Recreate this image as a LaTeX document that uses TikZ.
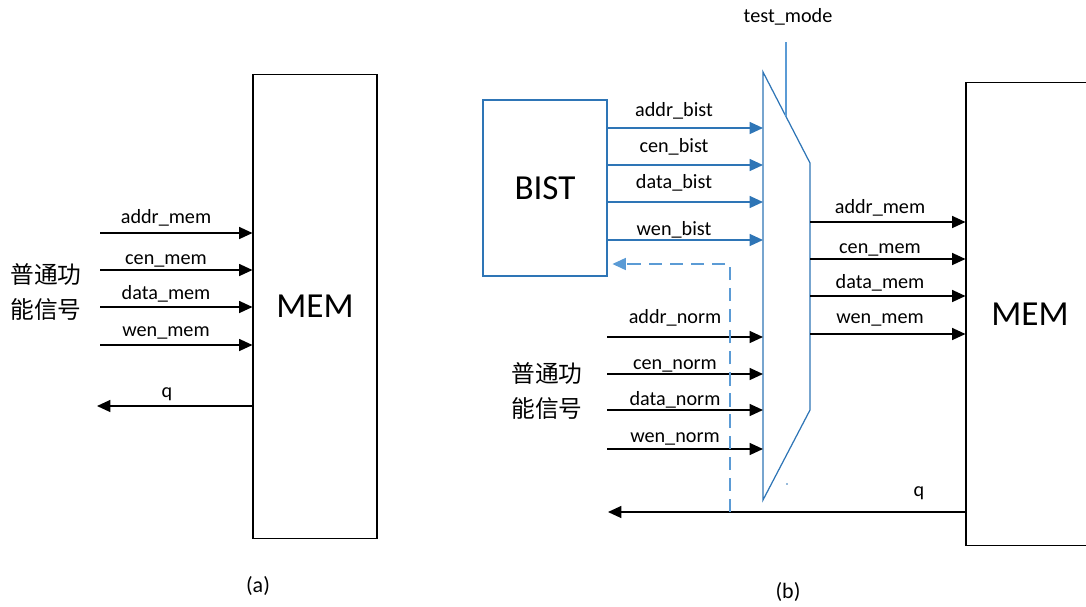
\documentclass[tikz,border=0pt]{standalone}
\usepackage{fontspec}
\setmainfont{Carlito}
\newfontfamily\cjkfont{Noto Sans CJK SC}
\usetikzlibrary{arrows.meta}
\definecolor{bistblue}{HTML}{2E75B6}
\definecolor{dashblue}{HTML}{5B9BD5}

\begin{document}
\begin{tikzpicture}[x=0.02cm, y=-0.02cm,
  sig/.style={line width=0.85pt, -{Triangle[length=7.6pt,width=6.8pt]}},
  bsig/.style={sig, bistblue},
  lbl/.style={font=\fontsize{11.5}{13}\selectfont, anchor=base},
  big/.style={draw, line width=0.6pt, inner sep=0pt, font=\fontsize{20}{24}\selectfont},
  cn/.style={font=\cjkfont\fontsize{13.5}{20}\selectfont, align=center}]
\useasboundingbox (0,0) rectangle (1086,606);
\clip (0,0) rectangle (1086,606);

\node[big, minimum width=2.48cm, minimum height=9.3cm] (mema) at (315,306.5) {MEM};
\node[cn] (fna) at (46,292) {普通功\\能信号};
\foreach \y/\b/\t in {233/223/addr\_mem, 270/264/cen\_mem, 307/299/data\_mem, 345/336/wen\_mem} {
  \coordinate (ina) at (100,\y);
  \draw[sig] (ina) -- (ina -| mema.west);
  \node[lbl] at (166,\b) {\t};
}
\coordinate (qa) at (97,406);
\draw[sig] (qa -| mema.west) -- (qa);
\node[lbl] (qla) at (167,397) {q};
\node[font=\fontsize{12.5}{15}\selectfont] (capa) at (258,586) {(a)};

\node[big, draw=bistblue, minimum width=2.48cm, minimum height=3.52cm] (bist) at (545,188) {BIST};
\node[big, minimum width=2.56cm, minimum height=9.28cm] (memb) at (1030,314) {MEM};
\node[cn] (fnb) at (547,391) {普通功\\能信号};

\coordinate (mnw) at (763,72);
\coordinate (mne) at (810,163);
\coordinate (mse) at (810,410);
\coordinate (msw) at (763,500);
\draw[bistblue, line width=0.7pt] (mnw) -- (mne) -- (mse) -- (msw) -- cycle;

\node[lbl] (tm) at (788,22) {test\_mode};
\coordinate (tmtop) at (786,42);
\coordinate (tmbot) at (786,116);
\draw[dashblue, line width=0.85pt] (tmtop) -- (tmbot);

\foreach \y/\b/\t in {128/116/addr\_bist, 165/152/cen\_bist, 202/188/data\_bist, 240/235/wen\_bist} {
  \coordinate (bi) at (0,\y);
  \draw[bsig] (bi -| bist.east) -- (bi -| mnw);
  \node[lbl] at (674,\b) {\t};
}
\foreach \y/\b/\t in {337/323/addr\_norm, 374/369/cen\_norm, 410/405/data\_norm, 449/442/wen\_norm} {
  \coordinate (ni) at (607,\y);
  \draw[sig] (ni) -- (ni -| mnw);
  \node[lbl] at (675,\b) {\t};
}
\foreach \y/\b/\t in {222/213/addr\_mem, 259/253/cen\_mem, 296/288/data\_mem, 334/323/wen\_mem} {
  \coordinate (mo) at (0,\y);
  \draw[sig] (mo -| mne) -- (mo -| memb.west);
  \node[lbl] at (880,\b) {\t};
}

\coordinate (qb) at (608,512);
\draw[sig] (qb -| memb.west) -- (qb);
\node[lbl] (qlb) at (919,496) {q};

\coordinate (fb) at (730,512);
\coordinate (fbt) at (730,264);
\draw[dashblue, line width=0.85pt, dash pattern=on 7.5pt off 4.5pt, -{Triangle[length=7.6pt,width=6.8pt]}, shorten >=2.8pt] (fb) -- (fbt) -- (fbt -| bist.east);

\fill[bistblue] (787,484) circle (0.8);
\node[font=\fontsize{12.5}{15}\selectfont] (capb) at (788,592) {(b)};
\end{tikzpicture}
\end{document}
